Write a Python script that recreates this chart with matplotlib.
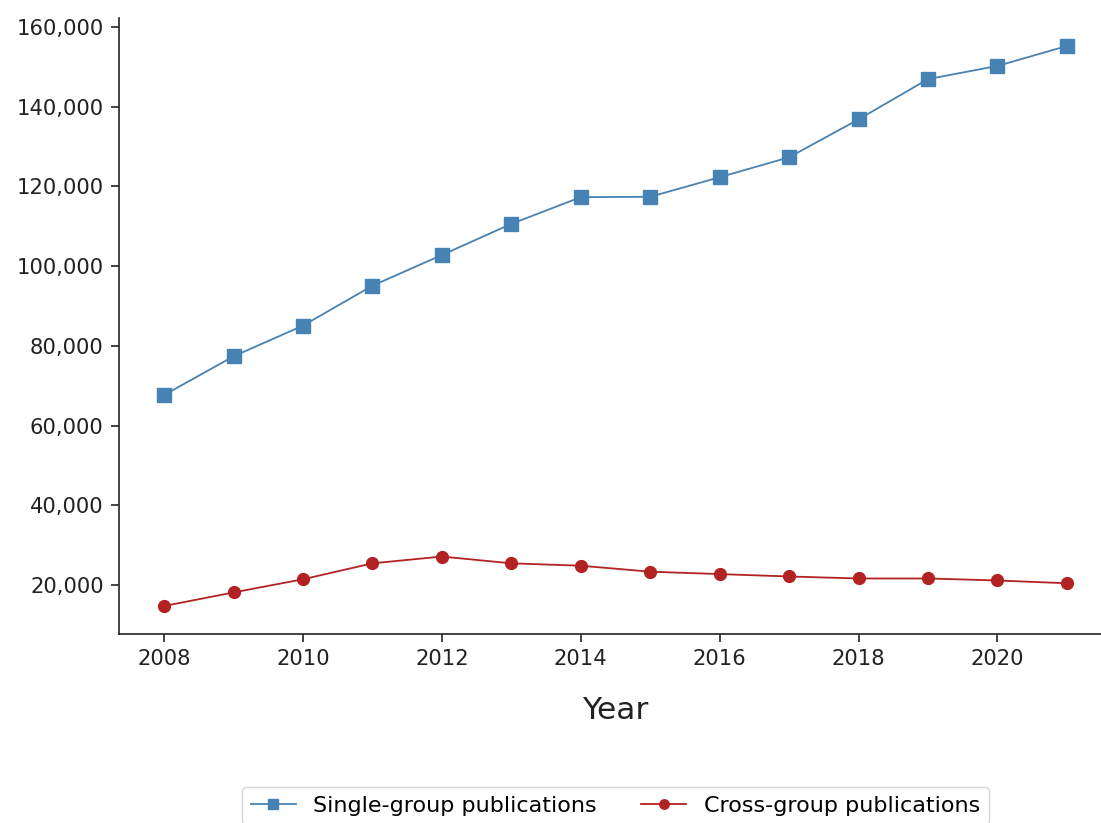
import matplotlib
matplotlib.use("Agg")
import matplotlib.pyplot as plt
from matplotlib.ticker import FuncFormatter, MultipleLocator

years = list(range(2008, 2022))
single_group = [67700, 77400, 85100, 95100, 102800, 110600, 117300, 117400,
                122300, 127300, 136800, 146900, 150200, 155200]
cross_group = [14800, 18200, 21500, 25500, 27200, 25500, 24900, 23400,
               22800, 22200, 21700, 21700, 21200, 20500]

W, H = 1101, 823
fig = plt.figure(figsize=(W / 100, H / 100), dpi=100)
ax = fig.add_axes([119 / W, 1 - 634 / H, (1112 - 119) / W, 616 / H])

ax.plot(years, single_group, color="#4682B4", marker="s", markersize=9.5,
        linewidth=1.3, label="Single-group publications")
ax.plot(years, cross_group, color="#B22222", marker="o", markersize=8.5,
        linewidth=1.3, label="Cross-group publications")

ax.yaxis.set_major_locator(MultipleLocator(20000))
ax.yaxis.set_major_formatter(FuncFormatter(lambda v, p: f"{int(v):,}"))
ax.xaxis.set_major_locator(MultipleLocator(2))

for s in ["top", "right"]:
    ax.spines[s].set_visible(False)
for s in ["left", "bottom"]:
    ax.spines[s].set_linewidth(1.2)
    ax.spines[s].set_color("#222222")

ax.tick_params(axis="both", labelsize=15.2, length=6, width=1.2, pad=5,
               colors="#222222", labelcolor="#222222")
ax.set_xlabel("Year", fontsize=22.5, labelpad=19, color="#222222")

leg = fig.legend(loc="upper center", bbox_to_anchor=(615.5 / W, 1 - 787 / H),
                 ncol=2, fontsize=16, frameon=True, borderaxespad=0,
                 handlelength=2.0, columnspacing=2.0, markerscale=0.8)
leg.get_frame().set_edgecolor("#cccccc")

fig.savefig("out.png", dpi=100)
